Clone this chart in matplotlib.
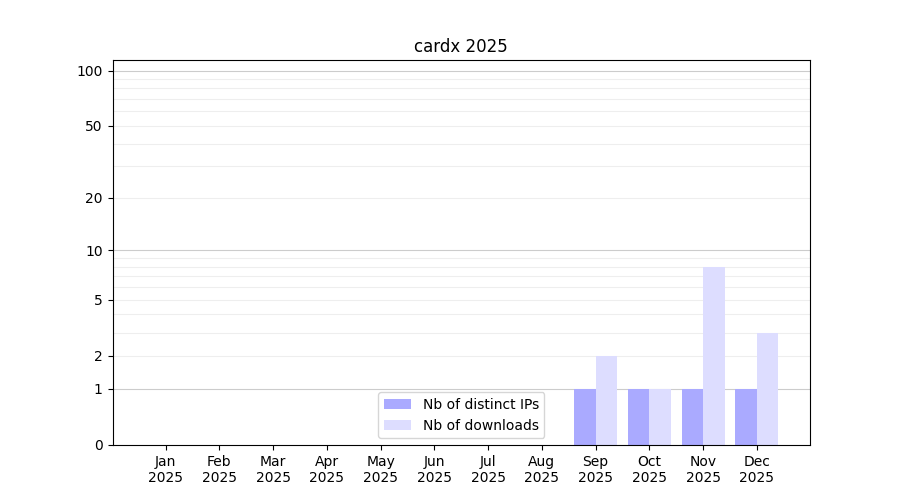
import numpy as np
import matplotlib
matplotlib.use("Agg")
import matplotlib.pyplot as plt
from matplotlib.ticker import FixedLocator, NullLocator

months = ['Jan', 'Feb', 'Mar', 'Apr', 'May', 'Jun', 'Jul', 'Aug', 'Sep', 'Oct', 'Nov', 'Dec']
year = '2025'
distinct_ips = [0, 0, 0, 0, 0, 0, 0, 0, 1, 1, 1, 1]
downloads = [0, 0, 0, 0, 0, 0, 0, 0, 2, 1, 8, 3]
yticks = [0, 1, 2, 5, 10, 20, 50, 100]
major_grid = [1, 10, 100]
minor_grid = [2, 3, 4, 5, 6, 7, 8, 9, 20, 30, 40, 50, 60, 70, 80, 90]

fig, ax = plt.subplots(figsize=(9, 5), dpi=100)

ax.set_yscale('function', functions=(lambda v: np.log10(1 + np.asarray(v)),
                                     lambda v: 10 ** np.asarray(v) - 1))

x = np.arange(len(months))
ax.bar(x, distinct_ips, width=-0.4, align='edge', color='#aaaaff', label='Nb of distinct IPs', zorder=2)
ax.bar(x, downloads, width=0.4, align='edge', color='#ddddff', label='Nb of downloads', zorder=2)

for v in minor_grid:
    ax.axhline(v, color='#eeeeee', lw=0.8, zorder=1)
for v in major_grid:
    ax.axhline(v, color='#cccccc', lw=0.8, zorder=1)

ax.set_ylim(0, 114)
ax.yaxis.set_major_locator(FixedLocator(yticks))
ax.yaxis.set_minor_locator(NullLocator())
ax.set_yticklabels([str(t) for t in yticks])
ax.set_xticks(x)
ax.set_xticklabels([m + '\n' + year for m in months])

ax.set_title('cardx 2025')
ax.legend(loc='lower center')

fig.savefig('out.png')
